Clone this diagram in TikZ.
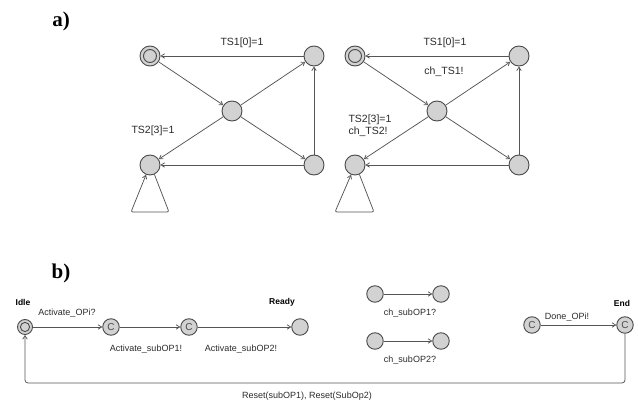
\documentclass[tikz,border=0pt]{standalone}
\usepackage{fontspec}
\setmainfont{Liberation Sans}
\newfontfamily\serifbold{Liberation Serif}
\usetikzlibrary{arrows.meta}
\definecolor{nodefill}{HTML}{D2D2D2}
\definecolor{nodeline}{HTML}{4A4A4A}
\definecolor{edgecol}{HTML}{555555}
\definecolor{txtcol}{HTML}{2A2A2A}
\tikzset{
  loc/.style={circle, draw=nodeline, fill=nodefill, line width=0.9pt, minimum size=#1, inner sep=0pt},
  loc/.default=20pt,
  comm/.style={loc=16.5pt, font=\fontsize{10}{11}\selectfont, text=nodeline},
  edge/.style={draw=edgecol, line width=0.75pt, -{Straight Barb[length=3.5pt,width=4.5pt]}},
  lbla/.style={text=txtcol, font=\fontsize{10.5}{12}\selectfont, inner sep=0pt},
  lblb/.style={text=txtcol, font=\fontsize{9}{10.5}\selectfont, inner sep=0pt},
  namelbl/.style={text=black, font=\bfseries\fontsize{8.5}{10}\selectfont, inner sep=0pt},
  part/.style={font=\serifbold\bfseries\fontsize{21}{24}\selectfont, inner sep=0pt}
}
\begin{document}
\begin{tikzpicture}[x=1pt,y=-1pt]
\useasboundingbox (0,0) rectangle (638,401);
% part labels
\node[part] (pa) at (61,21) {a)};
\node[part] (pb) at (61,273) {b)};
% ---- a) left
\node[loc, draw=none, fill=none] (Li) at (150,56) {};
\draw[nodeline, fill=nodefill, line width=0.9pt] (Li) circle (10pt);
\draw[nodeline, fill=nodefill, line width=0.9pt] (Li) circle (6.5pt);
\node[loc] (Ltr) at (314,56) {};
\node[loc] (Lc) at (232,111) {};
\node[loc] (Lbl) at (150,165) {};
\node[loc] (Lbr) at (314,165) {};
\draw[edge] (Ltr) -- (Li);
\draw[edge] (Li) -- (Lc);
\draw[edge] (Lc) -- (Ltr);
\draw[edge] (Lc) -- (Lbl);
\draw[edge] (Lc) -- (Lbr);
\draw[edge] (Lbr) -- (Lbl);
\draw[edge] (Lbr) -- (Ltr);
\coordinate (Lt1) at (169,212);
\coordinate (Lt2) at (131,212);
\draw[edge, rounded corners=2pt] (Lbl.-65) -- (Lt1) -- (Lt2) -- (Lbl.-112);
\node[lbla] (Ll1) at (242,43) {TS1[0]=1};
\node[lbla] (Ll2) at (153,131) {TS2[3]=1};
% ---- a) right
\node[loc, draw=none, fill=none] (Ri) at (355,56) {};
\draw[nodeline, fill=nodefill, line width=0.9pt] (Ri) circle (10pt);
\draw[nodeline, fill=nodefill, line width=0.9pt] (Ri) circle (6.5pt);
\node[loc] (Rtr) at (519,56) {};
\node[loc] (Rc) at (437,111) {};
\node[loc] (Rbl) at (355,165) {};
\node[loc] (Rbr) at (519,165) {};
\draw[edge] (Rtr) -- (Ri);
\draw[edge] (Ri) -- (Rc);
\draw[edge] (Rc) -- (Rtr);
\draw[edge] (Rc) -- (Rbl);
\draw[edge] (Rc) -- (Rbr);
\draw[edge] (Rbr) -- (Rbl);
\draw[edge] (Rbr) -- (Rtr);
\coordinate (Rt1) at (374,212);
\coordinate (Rt2) at (335,212);
\draw[edge, rounded corners=2pt] (Rbl.-65) -- (Rt1) -- (Rt2) -- (Rbl.-112);
\node[lbla] (Rl1) at (445,43) {TS1[0]=1};
\node[lbla] (Rl2) at (444,72) {ch\_TS1!};
\node[lbla, align=left] (Rl3) at (370,125.5) {TS2[3]=1\\ch\_TS2!};
% ---- b)
\node[loc=15pt, draw=none, fill=none] (idle) at (25,327) {};
\draw[nodeline, fill=nodefill, line width=0.9pt] (idle) circle (7.5pt);
\draw[nodeline, fill=nodefill, line width=0.9pt] (idle) circle (4.6pt);
\node[comm] (c1) at (111,327) {C};
\node[comm] (c2) at (189,327) {C};
\node[loc=16.5pt] (ready) at (300,327) {};
\node[namelbl] (nidle) at (23,302) {Idle};
\node[namelbl] (nready) at (282,302) {Ready};
\draw[edge] (idle) -- (c1);
\draw[edge] (c1) -- (c2);
\draw[edge] (c2) -- (ready);
\node[lblb] (l1) at (67,313) {Activate\_OPi?};
\node[lblb] (l2) at (146,349) {Activate\_subOP1!};
\node[lblb] (l3) at (241,349) {Activate\_subOP2!};
% channels
\node[loc=16.5pt] (s1a) at (375,294) {};
\node[loc=16.5pt] (s1b) at (441,294) {};
\draw[edge] (s1a) -- (s1b);
\node[lblb] (sl1) at (410,313) {ch\_subOP1?};
\node[loc=16.5pt] (s2a) at (375,341) {};
\node[loc=16.5pt] (s2b) at (441,341) {};
\draw[edge] (s2a) -- (s2b);
\node[lblb] (sl2) at (410,360) {ch\_subOP2?};
% end
\node[comm] (c3) at (532,325) {C};
\node[comm] (cend) at (625,325) {C};
\node[namelbl] (nend) at (622,303) {End};
\draw[edge] (c3) -- (cend);
\node[lblb] (l4) at (567,317) {Done\_OPi!};
\coordinate (br) at (625,383);
\coordinate (bl) at (25,383);
\draw[edge, rounded corners=3pt] (cend) -- (br) -- (bl) -- (idle);
\node[lblb] (l5) at (307,396) {Reset(subOP1), Reset(SubOp2)};
\end{tikzpicture}
\end{document}
